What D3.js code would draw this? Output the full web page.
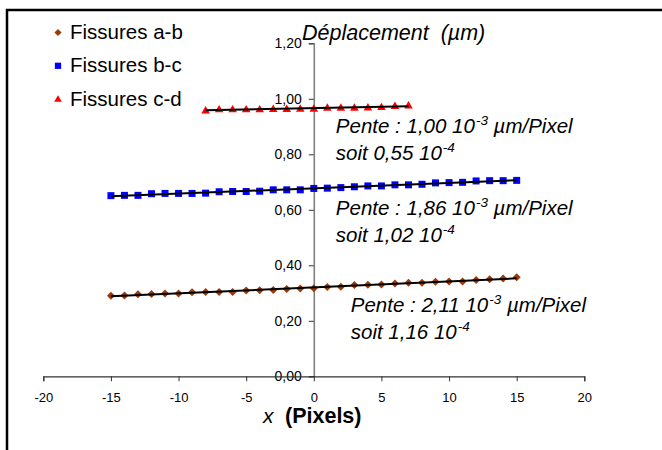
<!DOCTYPE html>
<html><head><meta charset="utf-8">
<script src="https://cdn.jsdelivr.net/npm/d3@7"></script>
<style>
body{margin:0;background:#fff;}
svg{display:block;font-family:"Liberation Sans",Arial,sans-serif;}
</style></head>
<body>
<svg id="c" width="662" height="450"></svg>
<script>
// ---- data ----
const xTicks = [-20,-15,-10,-5,0,5,10,15,20];
const yTicks = [0,0.2,0.4,0.6,0.8,1.0,1.2];
const seriesNames = ["Fissures a-b","Fissures b-c","Fissures c-d"];
const xAB = [-15,-14,-13,-12,-11,-10,-9,-8,-7,-6,-5,-4,-3,-2,-1,0,1,2,3,4,5,6,7,8,9,10,11,12,13,14,15];
const yAB = [0.290,0.291,0.296,0.297,0.298,0.298,0.303,0.304,0.304,0.304,0.309,0.310,0.311,0.315,0.316,0.317,0.322,0.323,0.329,0.330,0.331,0.334,0.337,0.337,0.341,0.342,0.342,0.347,0.350,0.352,0.357];
const xBC = [-15,-14,-13,-12,-11,-10,-9,-8,-7,-6,-5,-4,-3,-2,-1,0,1,2,3,4,5,6,7,8,9,10,11,12,13,14,15];
const yBC = [0.651,0.652,0.652,0.658,0.659,0.659,0.659,0.660,0.665,0.666,0.666,0.667,0.672,0.672,0.672,0.677,0.678,0.680,0.683,0.686,0.686,0.690,0.690,0.692,0.697,0.698,0.699,0.704,0.705,0.705,0.706];
const xCD = [-8,-7,-6,-5,-4,-3,-2,-1,0,1,2,3,4,5,6,7];
const yCD = [0.958,0.962,0.962,0.962,0.962,0.963,0.963,0.964,0.964,0.968,0.968,0.968,0.969,0.970,0.974,0.976];
const annotations = [
  {pente:"1,00", soit:"0,55", x:0.3, y:0.877},
  {pente:"1,86", soit:"1,02", x:0.3, y:0.583},
  {pente:"2,11", soit:"1,16", x:1.4, y:0.233}
];
// ---- drawing ----
const svg = d3.select("#c");
const x = d3.scaleLinear().domain([-20,20]).range([43.3,584.3]);
const y = d3.scaleLinear().domain([0,1.2]).range([376.3,43.3]);
const colors = ["#9C3A08","#0000FF","#FF0000"];
const series = [
  {name:seriesNames[0], xs:xAB, ys:yAB, color:colors[0], sym:"diamond"},
  {name:seriesNames[1], xs:xBC, ys:yBC, color:colors[1], sym:"square"},
  {name:seriesNames[2], xs:xCD, ys:yCD, color:colors[2], sym:"triangle"}
];
function symPath(kind, scale){
  scale = scale||1;
  if(kind==="diamond") return d3.symbol(d3.symbolSquare, 32*scale)();
  if(kind==="square") return d3.symbol(d3.symbolSquare, 49*scale)();
  return d3.symbol(d3.symbolTriangle, 32*scale)();
}
function symTransform(kind, px, py){
  return kind==="diamond" ? `translate(${px},${py}) rotate(45)` :
         kind==="triangle" ? `translate(${px},${py+0.5})` : `translate(${px},${py})`;
}

// frame
svg.append("line").attr("x1",6).attr("x2",662).attr("y1",10).attr("y2",10).attr("stroke","#000").attr("stroke-width",2.5);
svg.append("line").attr("x1",7).attr("x2",7).attr("y1",9).attr("y2",450).attr("stroke","#000").attr("stroke-width",2.5);

// y axis
const fmt = d => d3.format(".2f")(d).replace(".",",");
const yAx = svg.append("g").attr("transform",`translate(${x(0)},0)`)
  .call(d3.axisLeft(y).tickValues(yTicks).tickFormat(fmt).tickSize(5).tickPadding(7));
yAx.select(".domain").attr("stroke","#808080").attr("stroke-width",1.6);
yAx.selectAll(".tick line").attr("stroke","#333");
yAx.selectAll("text").attr("font-size",14).attr("fill","#000").attr("font-family","Liberation Sans, Arial, sans-serif");

// x axis
const xAx = svg.append("g").attr("transform",`translate(0,${y(0)})`)
  .call(d3.axisBottom(x).tickValues(xTicks).tickFormat(d=>d).tickSize(5).tickPadding(11));
xAx.select(".domain").attr("stroke","#333").attr("stroke-width",1.2);
xAx.selectAll(".tick line").attr("stroke","#333");
xAx.selectAll("text").attr("font-size",13).attr("fill","#000").attr("font-family","Liberation Sans, Arial, sans-serif");

// markers
series.forEach(s=>{
  svg.append("g").selectAll("path").data(s.xs.map((v,i)=>[v,s.ys[i]])).join("path")
    .attr("d",symPath(s.sym)).attr("fill",s.color)
    .attr("transform",d=>symTransform(s.sym,x(d[0]),y(d[1])));
});
// trend lines (least squares)
series.forEach(s=>{
  const mx=d3.mean(s.xs), my=d3.mean(s.ys);
  let sxy=0,sxx=0; s.xs.forEach((v,i)=>{sxy+=(v-mx)*(s.ys[i]-my); sxx+=(v-mx)*(v-mx);});
  const b=sxy/sxx, a=my-b*mx;
  const x0=d3.min(s.xs), x1=d3.max(s.xs);
  svg.append("line").attr("x1",x(x0)).attr("x2",x(x1)).attr("y1",y(a+b*x0)).attr("y2",y(a+b*x1))
    .attr("stroke","#000").attr("stroke-width",2);
});

// legend
series.forEach((s,i)=>{
  const ly = 32.5 + i*33.3;
  svg.append("path").attr("d",symPath(s.sym,0.8)).attr("fill",s.color).attr("transform",symTransform(s.sym,58,ly));
  svg.append("text").attr("x",70).attr("y",ly+6.5).attr("font-size",20.5).attr("fill","#000").text(s.name);
});

// titles
svg.append("text").attr("x",302).attr("y",39.5).attr("font-size",21.5).attr("font-style","italic").attr("fill","#000")
  .style("white-space","pre").text("Déplacement  (µm)");
svg.append("text").attr("x",263).attr("y",422.5).attr("font-size",21).attr("font-style","italic").attr("fill","#000").text("x");
svg.append("text").attr("x",285).attr("y",422.5).attr("font-size",21.5).attr("font-weight","bold").attr("fill","#000").text("(Pixels)");

// annotations
annotations.forEach(an=>{
  const px = x(an.x) + 18, py = y(an.y);
  const t1 = svg.append("text").attr("x",px).attr("y",py).attr("font-size",20.5).attr("font-style","italic").attr("fill","#000").style("white-space","pre");
  t1.append("tspan").text(`Pente : ${an.pente} 10`);
  t1.append("tspan").attr("font-size",13.5).attr("dy",-8).attr("dx",1).text("-3");
  t1.append("tspan").attr("dy",8).text(" µm/Pixel");
  const t2 = svg.append("text").attr("x",px).attr("y",py+27.3).attr("font-size",20.5).attr("font-style","italic").attr("fill","#000").style("white-space","pre");
  t2.append("tspan").text(`soit ${an.soit} 10`);
  t2.append("tspan").attr("font-size",13.5).attr("dy",-8).attr("dx",1).text("-4");
});
</script>
</body></html>
